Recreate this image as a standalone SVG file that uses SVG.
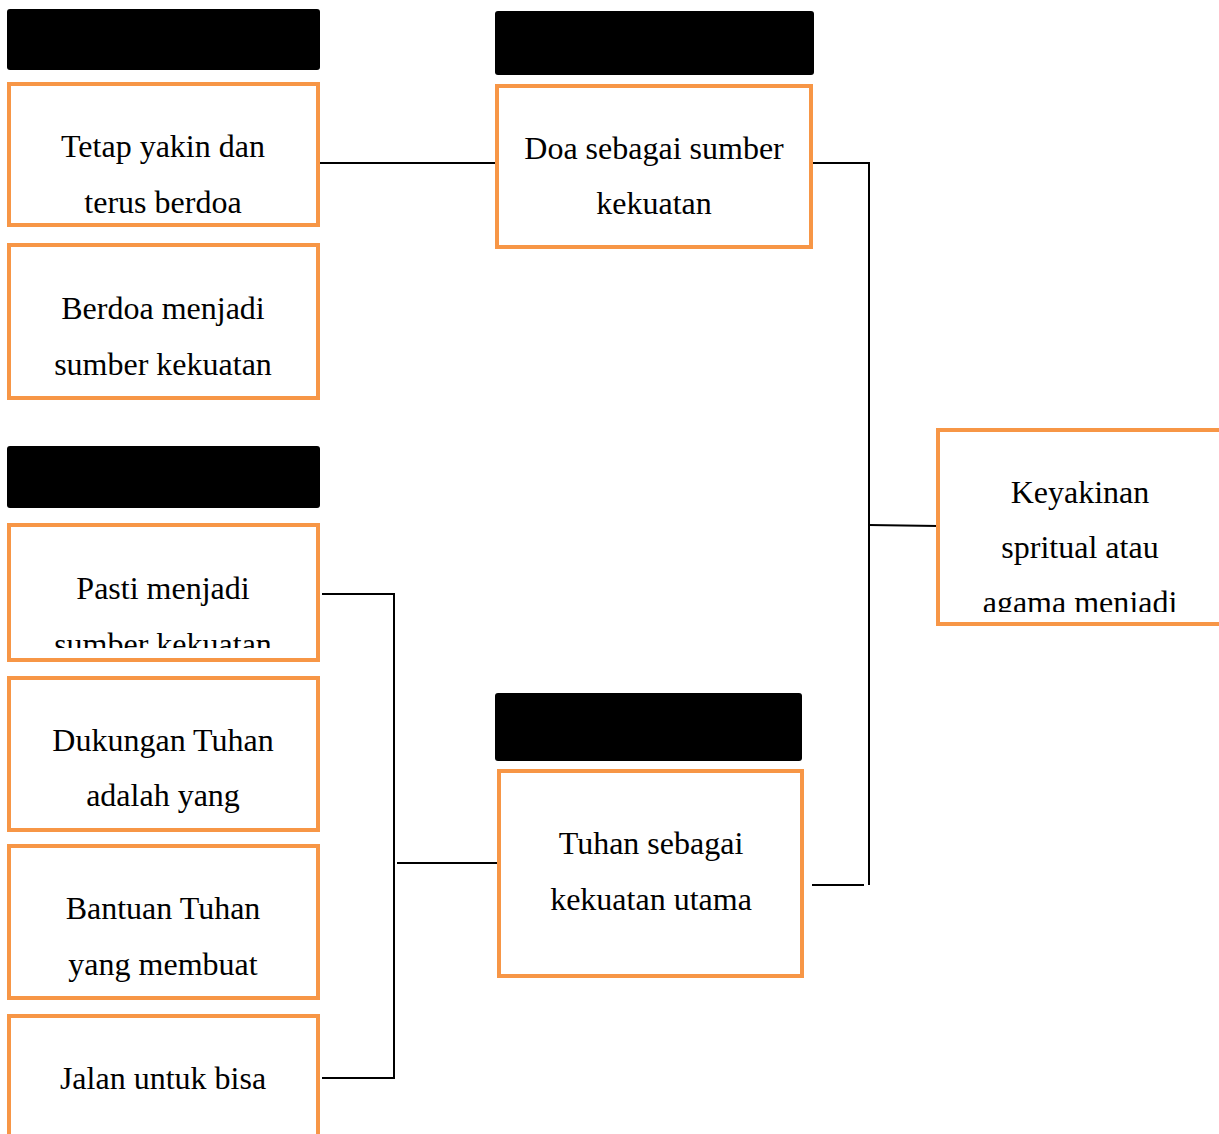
<svg xmlns="http://www.w3.org/2000/svg" width="1219" height="1134" viewBox="0 0 1219 1134">
<style>
.hdr{fill:#000;}
.box{fill:#fff;stroke:#F79646;stroke-width:4;}
.t{font-family:"Liberation Serif","Times New Roman",serif;font-size:32px;fill:#000;text-anchor:middle;}
.c{stroke:#000;stroke-width:2;fill:none;}
</style>
<defs>
<clipPath id="cp1"><rect x="11" y="86" width="305" height="137"/></clipPath>
<clipPath id="cpPasti"><rect x="11" y="527" width="305" height="121"/></clipPath>
<clipPath id="cpKey"><rect x="940" y="432" width="279" height="180"/></clipPath>
<clipPath id="cpJalan"><rect x="11" y="1018" width="305" height="116"/></clipPath>
</defs>
<rect width="1219" height="1134" fill="#fff"/>
<g id="headers">
<rect class="hdr" x="7" y="9" width="313" height="61" rx="3"/>
<rect class="hdr" x="495" y="11" width="319" height="64" rx="3"/>
<rect class="hdr" x="7" y="446" width="313" height="62" rx="3"/>
<rect class="hdr" x="495" y="693" width="307" height="68" rx="3"/>
</g>
<g id="connectors">
<line class="c" x1="320" y1="163" x2="497" y2="163"/>
<polyline class="c" points="813,163 869,163 869,885"/>
<line class="c" x1="869" y1="525" x2="938" y2="526"/>
<line class="c" x1="812" y1="885" x2="864" y2="885"/>
<polyline class="c" points="322,594 394,594 394,1078 322,1078"/>
<line class="c" x1="397" y1="863" x2="499" y2="863"/>
</g>
<g id="node-tetap">
<rect class="box" x="9" y="84" width="309" height="141"/>
<g clip-path="url(#cp1)">
<text class="t" x="163" y="157">Tetap yakin dan</text>
<text class="t" x="163" y="213">terus berdoa</text>
</g>
</g>
<g id="node-berdoa">
<rect class="box" x="9" y="245" width="309" height="153"/>
<text class="t" x="163" y="319">Berdoa menjadi</text>
<text class="t" x="163" y="375">sumber kekuatan</text>
</g>
<g id="node-doa">
<rect class="box" x="497" y="86" width="314" height="161"/>
<text class="t" x="654" y="159">Doa sebagai sumber</text>
<text class="t" x="654" y="214">kekuatan</text>
</g>
<g id="node-keyakinan">
<rect class="box" x="938" y="430" width="290" height="194"/>
<g clip-path="url(#cpKey)">
<text class="t" x="1080" y="503">Keyakinan</text>
<text class="t" x="1080" y="558">spritual atau</text>
<text class="t" x="1080" y="613">agama menjadi</text>
</g>
</g>
<g id="node-pasti">
<rect class="box" x="9" y="525" width="309" height="135"/>
<g clip-path="url(#cpPasti)">
<text class="t" x="163" y="599">Pasti menjadi</text>
<text class="t" x="163" y="655">sumber kekuatan</text>
</g>
</g>
<g id="node-dukungan">
<rect class="box" x="9" y="678" width="309" height="152"/>
<text class="t" x="163" y="751">Dukungan Tuhan</text>
<text class="t" x="163" y="806">adalah yang</text>
</g>
<g id="node-bantuan">
<rect class="box" x="9" y="846" width="309" height="152"/>
<text class="t" x="163" y="919">Bantuan Tuhan</text>
<text class="t" x="163" y="975">yang membuat</text>
</g>
<g id="node-jalan">
<rect class="box" x="9" y="1016" width="309" height="130"/>
<g clip-path="url(#cpJalan)">
<text class="t" x="163" y="1089">Jalan untuk bisa</text>
</g>
</g>
<g id="node-tuhan">
<rect class="box" x="499" y="771" width="303" height="205"/>
<text class="t" x="651" y="854">Tuhan sebagai</text>
<text class="t" x="651" y="910">kekuatan utama</text>
</g>
</svg>
